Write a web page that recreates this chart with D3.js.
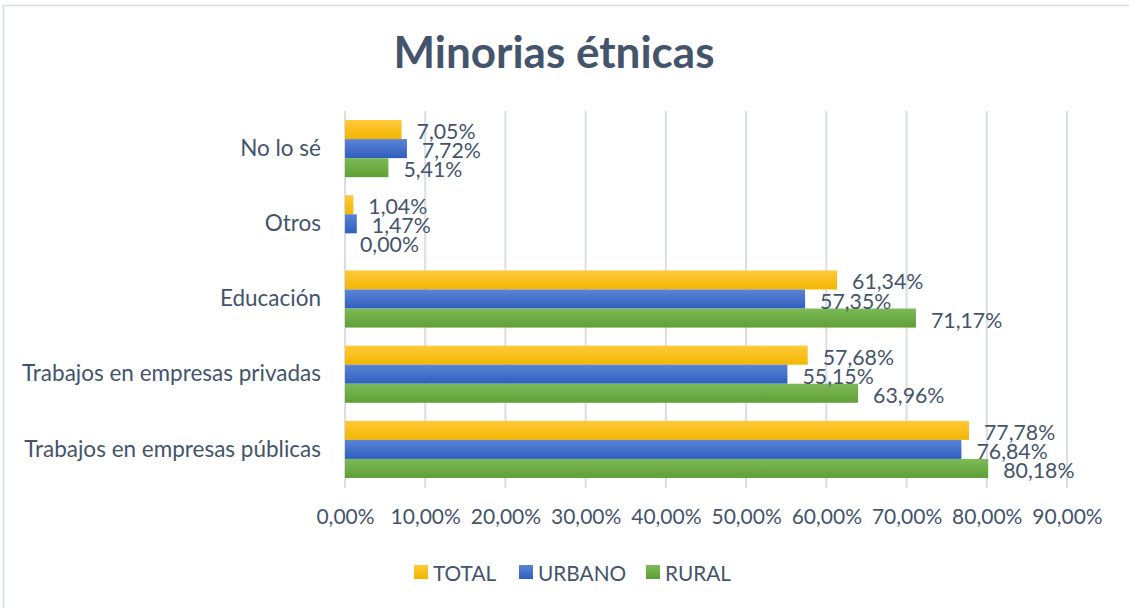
<!DOCTYPE html>
<html>
<head>
<meta charset="utf-8">
<script src="https://cdn.jsdelivr.net/npm/d3@7"></script>
<style>
  body { margin: 0; background: #fff; }
  svg { display: block; font-family: Lato, "Open Sans", sans-serif; }
</style>
</head>
<body>
<svg id="grafico" width="1129" height="608"></svg>
<script>
// dati
var categorie = ["No lo sé", "Otros", "Educación", "Trabajos en empresas privadas", "Trabajos en empresas públicas"];
var serie = ["TOTAL", "URBANO", "RURAL"];
var valoriTotal  = [7.05, 1.04, 61.34, 57.68, 77.78];
var valoriUrbano = [7.72, 1.47, 57.35, 55.15, 76.84];
var valoriRural  = [5.41, 0.00, 71.17, 63.96, 80.18];
var ticks = [0, 10, 20, 30, 40, 50, 60, 70, 80, 90];

var colori = {
    TOTAL:  ["#ffc93a", "#f2b700"],
    URBANO: ["#5b84d6", "#2f5fbe"],
    RURAL:  ["#7dba58", "#5f9f36"]
};

var coloreTesto = "#44546a";
var fontTesto = "21px";

var svg = d3.select("#grafico");

// bordo del grafico
svg.append("rect")
    .attr("x", 3.5).attr("y", 5.5)
    .attr("width", 1140).attr("height", 620)
    .attr("fill", "white")
    .attr("stroke", "#d9dee5")
    .attr("stroke-width", 1.5);

// gradienti
var defs = svg.append("defs");
serie.forEach(function(s){
    var g = defs.append("linearGradient")
        .attr("id", "grad" + s)
        .attr("x1", 0).attr("y1", 0).attr("x2", 0).attr("y2", 1);
    g.append("stop").attr("offset", "0%").attr("stop-color", colori[s][0]);
    g.append("stop").attr("offset", "100%").attr("stop-color", colori[s][1]);
});

var x = d3.scaleLinear().domain([0, 90]).range([345, 1067]);
var y = d3.scaleBand().domain(categorie).range([111, 487]).paddingInner(0.24).paddingOuter(0.12);
var ySerie = d3.scaleBand().domain(serie).range([0, y.bandwidth()]);

// titolo
svg.append("text")
    .attr("x", 554).attr("y", 68)
    .attr("text-anchor", "middle")
    .attr("fill", coloreTesto)
    .style("font-size", "44px")
    .style("font-weight", "bold")
    .text("Minorias étnicas");

// griglia
svg.append("g").selectAll("line")
    .data(ticks)
    .enter()
    .append("line")
    .attr("x1", d => x(d)).attr("x2", d => x(d))
    .attr("y1", 111).attr("y2", 488)
    .attr("stroke", "#d9dee5")
    .attr("stroke-width", 2);

// asse x
var assex = svg.append("g")
    .attr("transform", "translate(0,488)")
    .call(d3.axisBottom(x).tickValues(ticks).tickSize(0).tickPadding(21)
        .tickFormat(d => d3.format(".2f")(d).replace(".", ",") + "%"));
assex.select(".domain").remove();
assex.selectAll("text")
    .attr("fill", coloreTesto)
    .style("font-size", fontTesto)
    .style("font-family", "Lato, sans-serif");

// asse y
var assey = svg.append("g")
    .attr("transform", "translate(345,0)")
    .call(d3.axisLeft(y).tickSize(0).tickPadding(24));
assey.select(".domain").remove();
assey.selectAll("text")
    .attr("fill", coloreTesto)
    .style("font-size", "22.5px")
    .style("font-family", "Lato, sans-serif");

// barre
var righe = [];
categorie.forEach(function(c, i){
    righe.push({cat: c, serie: "TOTAL", valore: valoriTotal[i]});
    righe.push({cat: c, serie: "URBANO", valore: valoriUrbano[i]});
    righe.push({cat: c, serie: "RURAL", valore: valoriRural[i]});
});

svg.append("g").selectAll("rect")
    .data(righe)
    .enter()
    .append("rect")
    .attr("x", x(0))
    .attr("y", d => y(d.cat) + ySerie(d.serie))
    .attr("width", d => x(d.valore) - x(0))
    .attr("height", ySerie.bandwidth())
    .attr("fill", d => "url(#grad" + d.serie + ")");

// etichette
svg.append("g").selectAll("text")
    .data(righe)
    .enter()
    .append("text")
    .attr("x", d => x(d.valore) + 15)
    .attr("y", d => y(d.cat) + ySerie(d.serie) + ySerie.bandwidth() / 2 + 1.5)
    .attr("dominant-baseline", "central")
    .attr("fill", coloreTesto)
    .style("font-size", "21.3px")
    .text(d => d3.format(".2f")(d.valore).replace(".", ",") + "%");

// legenda
var legenda = svg.append("g").attr("transform", "translate(414,565)");
var posLegenda = [0, 105, 232];
serie.forEach(function(s, i){
    var g = legenda.append("g").attr("transform", "translate(" + posLegenda[i] + ",0)");
    g.append("rect")
        .attr("width", 14).attr("height", 14)
        .attr("fill", "url(#grad" + s + ")");
    g.append("text")
        .attr("x", 19).attr("y", 7.5)
        .attr("dominant-baseline", "central")
        .attr("fill", coloreTesto)
        .style("font-size", "20.8px")
        .text(s);
});
</script>
</body>
</html>
